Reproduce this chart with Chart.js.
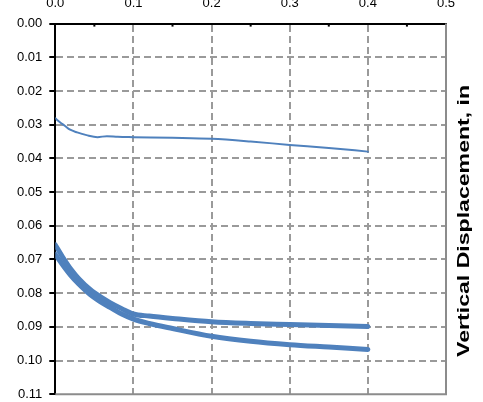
<!DOCTYPE html>
<html lang="en">
  <head>
    <meta charset="UTF-8" />
    <title>Vertical Displacement</title>
    <script src="https://cdn.jsdelivr.net/npm/chart.js@4.4.1/dist/chart.umd.min.js"></script>
    <style>
      html, body { margin: 0; padding: 0; background: #fff; overflow: hidden; }
      #wrap { position: absolute; left: 0; top: -29px; width: 483px; height: 438px; }
    </style>
  </head>
  <body>
    <div id="wrap"><canvas id="chart"></canvas></div>
  </body>
  <script>
    // thin curve (upper)
    const xThin = [0, 0.006, 0.012, 0.019, 0.028, 0.04, 0.054, 0.066, 0.08, 0.1, 0.15, 0.2, 0.25, 0.3, 0.35, 0.4];
    const yThin = [0.0281, 0.0293, 0.0303, 0.0315, 0.0323, 0.0331, 0.0337, 0.0334, 0.0336, 0.0337, 0.0339, 0.0342, 0.035, 0.036, 0.0369, 0.038];

    // thick curves (lower pair)
    const xThick = [0, 0.01, 0.02, 0.03, 0.045, 0.06, 0.07, 0.085, 0.1, 0.12, 0.15, 0.2, 0.25, 0.3, 0.35, 0.4];
    const yFlat = [0.0657, 0.0695, 0.0729, 0.0757, 0.079, 0.0814, 0.0828, 0.0846, 0.0862, 0.0868, 0.0875, 0.0885, 0.089, 0.0893, 0.0896, 0.0899];
    const yDeep = [0.0685, 0.0718, 0.0748, 0.0773, 0.0805, 0.0829, 0.0842, 0.0862, 0.0877, 0.089, 0.0905, 0.0928, 0.0943, 0.0953, 0.096, 0.0967];

    const yTitle = "Vertical Displacement, in";
    const blue = "#4f81bd";
    const gridGray = "#9a9a9a";
    const fontFam = "'Liberation Sans', Arial, sans-serif";

    const pts = (xs, ys) => xs.map((x, i) => ({ x, y: ys[i] }));

    const edgeHidden = (c) => {
      const n = c.scale.ticks.length;
      return c.index === 0 || c.index === n - 1 ? "rgba(0,0,0,0)" : gridGray;
    };

    // frame, minor top ticks and the right-hand title
    const decor = {
      id: "decor",
      afterDraw(chart) {
        const { ctx, chartArea: a, scales } = chart;
        ctx.save();
        ctx.strokeStyle = "#8c8c8c";
        ctx.lineWidth = 2;
        ctx.beginPath();
        ctx.moveTo(a.left, a.bottom);
        ctx.lineTo(a.right, a.bottom);
        ctx.lineTo(a.right, a.top);
        ctx.stroke();

        ctx.strokeStyle = "#000";
        ctx.lineWidth = 2;
        const xs = scales.x;
        for (let v = 0.05; v < 0.5; v += 0.1) {
          const px = xs.getPixelForValue(v);
          ctx.beginPath();
          ctx.moveTo(px, a.top);
          ctx.lineTo(px, a.top + 3);
          ctx.stroke();
        }

        ctx.translate(a.right + 19, (a.top + a.bottom) / 2 + 12);
        ctx.rotate(-Math.PI / 2);
        ctx.font = "bold 16px " + fontFam;
        ctx.fillStyle = "#000";
        ctx.textAlign = "center";
        ctx.textBaseline = "middle";
        const w = ctx.measureText(yTitle).width;
        ctx.scale(272 / w, 1);
        ctx.fillText(yTitle, 0, 0);
        ctx.restore();
      },
    };

    new Chart(document.getElementById("chart"), {
      type: "scatter",
      data: {
        datasets: [
          { data: pts(xThin, yThin), borderWidth: 2 },
          { data: pts(xThick, yFlat), borderWidth: 5 },
          { data: pts(xThick, yDeep), borderWidth: 5 },
        ].map((d) => ({
          ...d,
          showLine: true,
          borderColor: blue,
          backgroundColor: blue,
          pointRadius: 0,
          cubicInterpolationMode: "monotone",
          borderCapStyle: "round",
        })),
      },
      options: {
        responsive: true,
        maintainAspectRatio: false,
        animation: false,
        layout: { padding: { left: 10, right: 37, top: 13, bottom: 0 } },
        plugins: { legend: { display: false }, tooltip: { enabled: false } },
        scales: {
          x: {
            type: "linear",
            position: "top",
            min: 0,
            max: 0.5,
            ticks: {
              stepSize: 0.1,
              padding: 12,
              color: "#000",
              font: { family: fontFam, size: 13 },
              callback: (v) => v.toFixed(1),
            },
            grid: { color: edgeHidden, lineWidth: 2, drawTicks: false },
            border: { color: "#000", width: 2, dash: [7, 4] },
          },
          y: {
            reverse: true,
            min: 0,
            max: 0.11,
            ticks: {
              stepSize: 0.01,
              padding: 7,
              color: "#000",
              font: { family: fontFam, size: 13 },
              callback: (v) => v.toFixed(2),
            },
            grid: {
              color: edgeHidden,
              lineWidth: 2,
              tickColor: "#000",
              tickLength: 6,
              tickWidth: 2,
            },
            border: { color: "#000", width: 2, dash: [7, 4] },
          },
        },
      },
      plugins: [decor],
    });
  </script>
</html>
